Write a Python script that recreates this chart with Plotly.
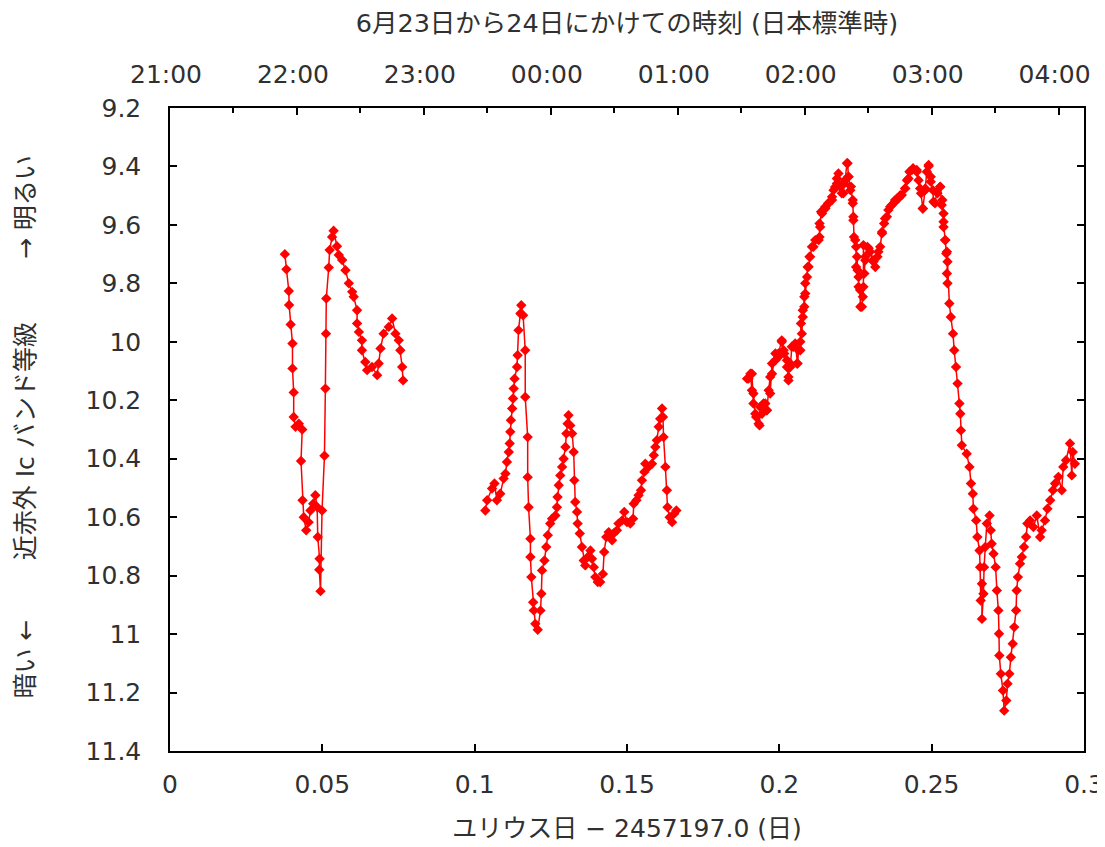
import plotly.graph_objects as go

# ---------------- data ----------------
seg1_x = [0.0377, 0.0382, 0.0390, 0.0391, 0.0396, 0.0402, 0.0402, 0.0406, 0.0406, 0.0412,
          0.0423, 0.0434, 0.0430, 0.0435, 0.0439, 0.0447, 0.0455, 0.0461, 0.0470, 0.0477,
          0.0483, 0.0485, 0.0491, 0.0490, 0.0494, 0.0499, 0.0507, 0.0510, 0.0512, 0.0513,
          0.0521, 0.0524, 0.0532, 0.0537, 0.0548, 0.0554, 0.0565, 0.0576, 0.0587, 0.0598,
          0.0603, 0.0614, 0.0614, 0.0620, 0.0630, 0.0630, 0.0641, 0.0647, 0.0663, 0.0680,
          0.0685, 0.0691, 0.0701, 0.0718, 0.0729, 0.0740, 0.0751, 0.0756, 0.0762, 0.0765]
seg1_y = [9.700, 9.752, 9.826, 9.874, 9.941, 10.006, 10.091, 10.173, 10.257, 10.291,
          10.280, 10.300, 10.408, 10.542, 10.600, 10.645, 10.617, 10.577, 10.554, 10.525,
          10.565, 10.668, 10.742, 10.780, 10.853, 10.577, 10.390, 10.160, 9.972, 9.852,
          9.746, 9.686, 9.641, 9.620, 9.673, 9.703, 9.720, 9.755, 9.800, 9.829,
          9.846, 9.892, 9.937, 9.966, 9.995, 10.029, 10.069, 10.097, 10.086, 10.114,
          10.074, 10.023, 9.972, 9.949, 9.920, 9.972, 9.995, 10.029, 10.086, 10.132]

seg2_x = [0.1035, 0.1041, 0.1057, 0.1065, 0.1073, 0.1084, 0.1095, 0.1101, 0.1106, 0.1112,
          0.1115, 0.1117, 0.1119, 0.1123, 0.1126, 0.1128, 0.1131, 0.1139, 0.1141, 0.1144,
          0.1150, 0.1153, 0.1159, 0.1166, 0.1166, 0.1174, 0.1174, 0.1177, 0.1183, 0.1183,
          0.1186, 0.1192, 0.1194, 0.1199, 0.1207, 0.1216, 0.1219, 0.1221, 0.1229, 0.1235,
          0.1240, 0.1248, 0.1254, 0.1265, 0.1270, 0.1272, 0.1276, 0.1281, 0.1287, 0.1292,
          0.1298, 0.1301, 0.1305, 0.1308, 0.1314, 0.1320, 0.1325, 0.1327, 0.1330, 0.1336,
          0.1338, 0.1345, 0.1352, 0.1358, 0.1363, 0.1371, 0.1380, 0.1385, 0.1391, 0.1396,
          0.1404, 0.1412, 0.1421, 0.1425, 0.1432, 0.1440, 0.1451, 0.1456, 0.1467, 0.1472,
          0.1484, 0.1491, 0.1500, 0.1511, 0.1520, 0.1522, 0.1531, 0.1538, 0.1546, 0.1549,
          0.1557, 0.1560, 0.1571, 0.1582, 0.1588, 0.1593, 0.1598, 0.1604, 0.1609, 0.1615,
          0.1618, 0.1620, 0.1626, 0.1631, 0.1633, 0.1640, 0.1648, 0.1655, 0.1662]
seg2_y = [10.577, 10.542, 10.502, 10.485, 10.542, 10.520, 10.468, 10.451, 10.411, 10.377,
          10.348, 10.308, 10.268, 10.228, 10.194, 10.160, 10.126, 10.086, 10.046, 9.960,
          9.903, 9.875, 9.909, 10.029, 10.189, 10.326, 10.463, 10.566, 10.674, 10.736,
          10.805, 10.891, 10.919, 10.965, 10.985, 10.919, 10.862, 10.782, 10.748, 10.702,
          10.662, 10.622, 10.605, 10.594, 10.566, 10.531, 10.491, 10.457, 10.428, 10.400,
          10.360, 10.314, 10.280, 10.251, 10.286, 10.314, 10.377, 10.474, 10.548, 10.582,
          10.622, 10.656, 10.702, 10.748, 10.765, 10.736, 10.714, 10.742, 10.771, 10.805,
          10.822, 10.822, 10.794, 10.719, 10.668, 10.651, 10.679, 10.656, 10.645, 10.622,
          10.611, 10.582, 10.617, 10.622, 10.605, 10.554, 10.542, 10.525, 10.508, 10.474,
          10.445, 10.417, 10.428, 10.417, 10.388, 10.360, 10.337, 10.291, 10.263, 10.228,
          10.257, 10.326, 10.428, 10.508, 10.566, 10.600, 10.617, 10.588, 10.577]

# third night segment, first reading pass
seg3a_x = [0.1894, 0.1905, 0.1910, 0.1915, 0.1924, 0.1935, 0.1943, 0.1948, 0.1959, 0.1965,
           0.1970, 0.1976, 0.1987, 0.1997, 0.2008, 0.2016, 0.2025, 0.2030, 0.2036, 0.2047,
           0.2058, 0.2063, 0.2069, 0.2071, 0.2077, 0.2082, 0.2085, 0.2093, 0.2099, 0.2107,
           0.2118, 0.2132, 0.2132, 0.2137, 0.2151, 0.2161, 0.2173, 0.2178, 0.2189, 0.2194,
           0.2202, 0.2210, 0.2216, 0.2224, 0.2227, 0.2235, 0.2241, 0.2243, 0.2245, 0.2252,
           0.2252, 0.2260, 0.2265, 0.2271, 0.2274, 0.2279, 0.2282, 0.2289, 0.2298, 0.2307,
           0.2315, 0.2322, 0.2331, 0.2337, 0.2344, 0.2353, 0.2358, 0.2369, 0.2380, 0.2391,
           0.2402, 0.2413, 0.2419, 0.2427, 0.2439, 0.2451, 0.2457, 0.2465, 0.2471, 0.2479,
           0.2484, 0.2490, 0.2497, 0.2504, 0.2511, 0.2519, 0.2528, 0.2535, 0.2539, 0.2539,
           0.2545, 0.2548, 0.2550, 0.2552, 0.2558, 0.2563, 0.2570, 0.2574, 0.2580, 0.2585,
           0.2591, 0.2594, 0.2596, 0.2599, 0.2615, 0.2624, 0.2629, 0.2635, 0.2637, 0.2646,
           0.2650, 0.2657, 0.2659, 0.2665, 0.2661, 0.2665, 0.2670, 0.2672, 0.2676, 0.2681,
           0.2690, 0.2694, 0.2697, 0.2703, 0.2710, 0.2714, 0.2719, 0.2721, 0.2722, 0.2727,
           0.2734, 0.2738, 0.2745, 0.2749, 0.2755, 0.2760, 0.2766, 0.2771, 0.2777, 0.2779,
           0.2783, 0.2790, 0.2796, 0.2803, 0.2810, 0.2814, 0.2823, 0.2834, 0.2845, 0.2856,
           0.2861, 0.2872, 0.2880, 0.2889, 0.2898, 0.2905, 0.2916, 0.2927, 0.2932, 0.2941,
           0.2954, 0.2963, 0.2970, 0.2960]
seg3a_y = [10.126, 10.109, 10.166, 10.211, 10.257, 10.286, 10.246, 10.211, 10.234, 10.166,
           10.120, 10.074, 10.040, 10.052, 9.995, 10.040, 10.086, 10.132, 10.074, 10.017,
           10.074, 10.029, 10.000, 9.937, 9.892, 9.846, 9.800, 9.744, 9.709, 9.675,
           9.652, 9.641, 9.595, 9.555, 9.544, 9.526, 9.515, 9.481, 9.458, 9.424,
           9.464, 9.492, 9.446, 9.389, 9.435, 9.469, 9.515, 9.572, 9.641, 9.675,
           9.744, 9.778, 9.823, 9.880, 9.846, 9.766, 9.709, 9.675, 9.692, 9.721,
           9.744, 9.709, 9.675, 9.629, 9.595, 9.572, 9.549, 9.532, 9.521, 9.509,
           9.498, 9.475, 9.447, 9.418, 9.406, 9.412, 9.447, 9.492, 9.544, 9.481,
           9.418, 9.399, 9.435, 9.481, 9.526, 9.492, 9.469, 9.515, 9.561, 9.607,
           9.652, 9.698, 9.766, 9.800, 9.869, 9.915, 9.972, 10.029, 10.086, 10.143,
           10.211, 10.246, 10.303, 10.354, 10.383, 10.428, 10.485, 10.520, 10.571, 10.611,
           10.668, 10.714, 10.771, 10.828, 10.885, 10.948, 10.862, 10.771, 10.702, 10.622,
           10.594, 10.645, 10.691, 10.725, 10.771, 10.851, 10.919, 10.999, 11.073, 11.136,
           11.193, 11.262, 11.227, 11.170, 11.136, 11.079, 11.033, 10.976, 10.919, 10.851,
           10.805, 10.759, 10.736, 10.702, 10.668, 10.622, 10.611, 10.634, 10.594, 10.668,
           10.645, 10.611, 10.571, 10.542, 10.508, 10.485, 10.462, 10.508, 10.428, 10.405,
           10.348, 10.377, 10.417, 10.457]

# third night segment, second (closer) reading pass of the dense part
seg3b_x = [0.1899, 0.1910, 0.1915, 0.1921, 0.1932, 0.1937, 0.1954, 0.1959, 0.1970, 0.1976,
           0.1987, 0.1997, 0.2008, 0.2014, 0.2025, 0.2030, 0.2036, 0.2041, 0.2052, 0.2060,
           0.2069, 0.2074, 0.2077, 0.2082, 0.2085, 0.2091, 0.2096, 0.2101, 0.2112, 0.2129,
           0.2134, 0.2140, 0.2151, 0.2161, 0.2173, 0.2183, 0.2189, 0.2200, 0.2205, 0.2213,
           0.2222, 0.2227, 0.2233, 0.2241, 0.2243, 0.2249, 0.2255, 0.2257, 0.2260, 0.2266,
           0.2276, 0.2282, 0.2276, 0.2293, 0.2309, 0.2325, 0.2337, 0.2347, 0.2364, 0.2380,
           0.2397, 0.2413, 0.2424, 0.2435, 0.2451, 0.2462, 0.2471, 0.2479, 0.2490, 0.2497,
           0.2506, 0.2517, 0.2528, 0.2533, 0.2539, 0.2544, 0.2550, 0.2552]
seg3b_y = [10.126, 10.109, 10.177, 10.246, 10.280, 10.223, 10.211, 10.234, 10.177, 10.109,
           10.063, 10.040, 10.000, 10.029, 10.063, 10.120, 10.086, 10.017, 10.006, 10.074,
           10.029, 9.972, 9.915, 9.880, 9.835, 9.778, 9.743, 9.709, 9.675, 9.652,
           9.607, 9.561, 9.538, 9.526, 9.504, 9.470, 9.441, 9.470, 9.492, 9.458,
           9.389, 9.435, 9.481, 9.526, 9.584, 9.652, 9.709, 9.755, 9.812, 9.880,
           9.812, 9.721, 9.669, 9.680, 9.726, 9.692, 9.624, 9.578, 9.538, 9.515,
           9.498, 9.475, 9.441, 9.412, 9.418, 9.475, 9.544, 9.475, 9.395, 9.452,
           9.521, 9.487, 9.470, 9.532, 9.589, 9.652, 9.692, 9.726]

x_ticks = [0, 0.05, 0.1, 0.15, 0.2, 0.25, 0.3]
x_ticklabels = ["0", "0.05", "0.1", "0.15", "0.2", "0.25", "0.3"]
y_ticks = [9.2, 9.4, 9.6, 9.8, 10.0, 10.2, 10.4, 10.6, 10.8, 11.0, 11.2, 11.4]
y_ticklabels = ["9.2", "9.4", "9.6", "9.8", "10", "10.2", "10.4", "10.6", "10.8", "11", "11.2", "11.4"]
hour_labels = ["21:00", "22:00", "23:00", "00:00", "01:00", "02:00", "03:00", "04:00"]
hour_ticks = [i / 24 for i in range(len(hour_labels))]
half_hour_ticks = [(i + 0.5) / 24 for i in range(len(hour_labels))]

# the two reading passes of segment 3 merged in time order
seg3 = sorted(zip(seg3a_x + seg3b_x, seg3a_y + seg3b_y), key=lambda p: p[0])
seg3_x = [p[0] for p in seg3]
seg3_y = [p[1] for p in seg3]

FONT = "DejaVu Sans, Noto Sans CJK JP"
TICK_FS = 25
TITLE_FS = 25.5
XLAB_FS = 25
YLAB_FS = 25
TXT = "#303030"
RED = "#ff0000"

fig = go.Figure()
for sx, sy in [(seg1_x, seg1_y), (seg2_x, seg2_y), (seg3_x, seg3_y)]:
    fig.add_trace(go.Scatter(
        x=sx, y=sy, mode="lines+markers",
        line=dict(color=RED, width=1.5),
        marker=dict(symbol="diamond", size=8, color=RED),
        showlegend=False, hoverinfo="skip"))
# carrier for the top (clock time) axis: no visible marks
fig.add_trace(go.Scatter(x=hour_ticks, y=[None] * len(hour_ticks), xaxis="x2",
                         mode="markers", showlegend=False, hoverinfo="skip"))

axis_common = dict(ticks="inside", ticklen=7, tickwidth=1.5, tickcolor="black",
                   showline=True, linecolor="black", linewidth=1.5,
                   showgrid=False, zeroline=False, automargin=False,
                   tickfont=dict(family=FONT, size=TICK_FS, color=TXT))

# the page body adds an 8px offset, margins compensate for it
fig.update_layout(
    width=1105, height=847,
    margin=dict(l=162, r=29, t=100, b=104),
    paper_bgcolor="white", plot_bgcolor="white",
    font=dict(family=FONT, size=TICK_FS, color=TXT),
    xaxis=dict(range=[0, 0.3], tickvals=x_ticks, ticktext=x_ticklabels, mirror=False,
               ticklabelstandoff=10,
               title=dict(text="ユリウス日 − 2457197.0 (日)", standoff=22,
                          font=dict(family=FONT, size=XLAB_FS, color=TXT)),
               **axis_common),
    xaxis2=dict(range=[0, 0.3], overlaying="x", side="top", anchor="y",
                tickvals=hour_ticks, ticktext=hour_labels, ticklabelshift=-4,
                minor=dict(tickvals=half_hour_ticks, ticks="inside", ticklen=5,
                           tickwidth=1.5, tickcolor="black"),
                ticklabelstandoff=13,
                title=dict(text="6月23日から24日にかけての時刻 (日本標準時)", standoff=21,
                           font=dict(family=FONT, size=TITLE_FS, color=TXT)),
                **axis_common),
    yaxis=dict(range=[11.4, 9.2], tickvals=y_ticks, ticktext=y_ticklabels, mirror="ticks",
               ticklabelstandoff=22, **axis_common),
)

# y-axis label pieces (rotated); plot area spans 108..750.5 px in the window
def ypaper(py):
    return (750.5 - py) / 642.5

for txt, py in [("→ 明るい", 207), ("近赤外 Ic バンド等級", 441), ("暗い ←", 659)]:
    fig.add_annotation(text=txt, xref="paper", yref="paper", x=0, y=ypaper(py),
                       xanchor="center", yanchor="middle",
                       xshift=-145, textangle=-90, showarrow=False,
                       font=dict(family=FONT, size=YLAB_FS, color=TXT))

fig.write_html("out.html")
